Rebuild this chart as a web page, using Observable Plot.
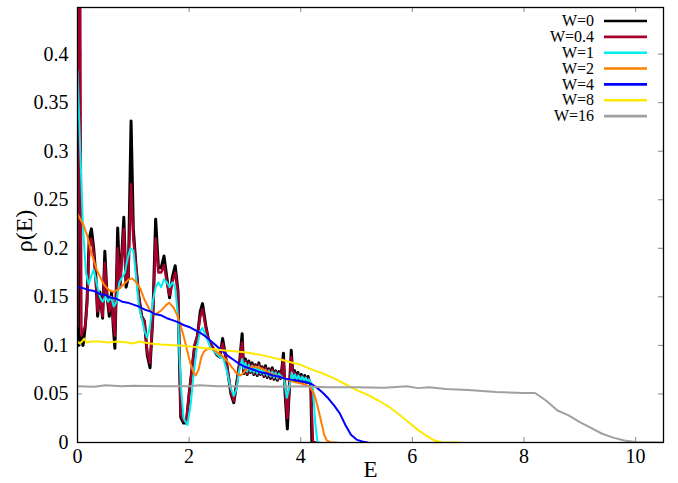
<!DOCTYPE html>
<html><head><meta charset="utf-8">
<script src="https://cdn.jsdelivr.net/npm/d3@7"></script>
<script src="https://cdn.jsdelivr.net/npm/@observablehq/plot@0.6"></script>
<style>
html,body{margin:0;padding:0;background:#fff;}
#chart{position:relative;width:678px;height:483px;}
#chart svg, #chart svg text{font-family:"Liberation Serif","Times New Roman",serif !important;}
</style></head><body><div id="chart"></div>
<script>
// ---- data: [E, rho(E)] pairs ----
const W0 = [[0,0.6],[0.02,0.1],[0.06,0.11],[0.1,0.1],[0.14,0.12],[0.17,0.145],[0.21,0.21],[0.25,0.22],[0.29,0.2],[0.33,0.17],[0.36,0.13],[0.4,0.155],[0.45,0.128],[0.49,0.197],[0.53,0.15],[0.57,0.13],[0.61,0.155],[0.64,0.12],[0.67,0.097],[0.72,0.221],[0.76,0.16],[0.8,0.2],[0.83,0.232],[0.87,0.16],[0.91,0.17],[0.96,0.331],[1.0,0.22],[1.05,0.18],[1.1,0.15],[1.15,0.13],[1.2,0.125],[1.25,0.09],[1.3,0.077],[1.35,0.13],[1.4,0.23],[1.45,0.18],[1.5,0.18],[1.55,0.192],[1.6,0.17],[1.65,0.149],[1.7,0.17],[1.75,0.182],[1.8,0.156],[1.85,0.026],[1.9,0.02],[1.95,0.02],[2.0,0.05],[2.05,0.075],[2.1,0.1],[2.15,0.11],[2.2,0.135],[2.24,0.143],[2.3,0.12],[2.35,0.105],[2.4,0.1],[2.45,0.095],[2.5,0.09],[2.55,0.088],[2.6,0.107],[2.65,0.09],[2.7,0.07],[2.75,0.05],[2.8,0.041],[2.85,0.06],[2.9,0.08],[2.95,0.112],[2.98,0.071],[3.01,0.086],[3.04,0.07],[3.07,0.084],[3.1,0.072],[3.13,0.082],[3.16,0.07],[3.19,0.08],[3.22,0.069],[3.25,0.082],[3.28,0.07],[3.31,0.078],[3.34,0.068],[3.37,0.079],[3.4,0.067],[3.43,0.076],[3.46,0.066],[3.49,0.077],[3.52,0.065],[3.55,0.074],[3.58,0.064],[3.61,0.073],[3.64,0.066],[3.67,0.08],[3.69,0.092],[3.72,0.05],[3.76,0.014],[3.8,0.06],[3.83,0.095],[3.86,0.068],[3.89,0.074],[3.92,0.063],[3.95,0.072],[3.98,0.062],[4.01,0.07],[4.04,0.061],[4.07,0.069],[4.1,0.062],[4.13,0.068],[4.16,0.062],[4.18,0.06],[4.2,0],[4.25,0]];
const W04 = [[0,0.12],[0.04,0.6],[0.07,0.11],[0.1,0.115],[0.14,0.12],[0.17,0.14],[0.21,0.2],[0.25,0.21],[0.29,0.195],[0.33,0.165],[0.36,0.135],[0.4,0.15],[0.45,0.13],[0.49,0.185],[0.53,0.15],[0.57,0.135],[0.61,0.15],[0.64,0.125],[0.67,0.11],[0.72,0.2],[0.76,0.16],[0.8,0.195],[0.83,0.22],[0.87,0.165],[0.91,0.17],[0.96,0.266],[1.0,0.21],[1.05,0.18],[1.1,0.15],[1.15,0.13],[1.2,0.125],[1.25,0.093],[1.3,0.082],[1.35,0.13],[1.4,0.21],[1.45,0.175],[1.5,0.175],[1.55,0.183],[1.6,0.165],[1.65,0.152],[1.7,0.165],[1.75,0.175],[1.8,0.155],[1.85,0.03],[1.9,0.022],[1.95,0.022],[2.0,0.05],[2.05,0.075],[2.1,0.1],[2.15,0.11],[2.2,0.13],[2.24,0.137],[2.3,0.118],[2.35,0.105],[2.4,0.1],[2.45,0.095],[2.5,0.09],[2.55,0.09],[2.6,0.102],[2.65,0.09],[2.7,0.07],[2.75,0.052],[2.8,0.043],[2.85,0.06],[2.9,0.08],[2.95,0.103],[2.98,0.073],[3.01,0.084],[3.04,0.071],[3.07,0.082],[3.1,0.073],[3.13,0.08],[3.16,0.071],[3.19,0.079],[3.22,0.07],[3.25,0.08],[3.28,0.071],[3.31,0.077],[3.34,0.069],[3.37,0.077],[3.4,0.068],[3.43,0.075],[3.46,0.067],[3.49,0.075],[3.52,0.066],[3.55,0.073],[3.58,0.065],[3.61,0.071],[3.64,0.066],[3.67,0.077],[3.69,0.086],[3.72,0.055],[3.76,0.025],[3.8,0.06],[3.83,0.088],[3.86,0.068],[3.89,0.072],[3.92,0.064],[3.95,0.07],[3.98,0.063],[4.01,0.068],[4.04,0.062],[4.07,0.067],[4.1,0.063],[4.13,0.066],[4.16,0.062],[4.18,0.06],[4.22,0],[4.27,0]];
const W1 = [[0,0.383],[0.05,0.3],[0.1,0.22],[0.15,0.175],[0.2,0.163],[0.25,0.172],[0.29,0.178],[0.34,0.165],[0.4,0.15],[0.45,0.145],[0.5,0.15],[0.55,0.145],[0.6,0.15],[0.65,0.14],[0.7,0.145],[0.75,0.165],[0.8,0.17],[0.85,0.175],[0.9,0.19],[0.95,0.2],[1.0,0.198],[1.05,0.17],[1.1,0.14],[1.15,0.128],[1.2,0.115],[1.25,0.108],[1.3,0.12],[1.35,0.145],[1.4,0.16],[1.45,0.165],[1.5,0.16],[1.55,0.168],[1.6,0.165],[1.65,0.16],[1.7,0.165],[1.75,0.16],[1.8,0.13],[1.85,0.06],[1.9,0.025],[1.97,0.018],[2.03,0.04],[2.08,0.07],[2.14,0.098],[2.2,0.115],[2.24,0.118],[2.3,0.11],[2.38,0.098],[2.45,0.094],[2.5,0.091],[2.55,0.088],[2.61,0.087],[2.67,0.075],[2.74,0.057],[2.8,0.048],[2.85,0.055],[2.9,0.075],[2.95,0.086],[2.98,0.076],[3.01,0.082],[3.04,0.073],[3.07,0.08],[3.1,0.073],[3.13,0.079],[3.16,0.072],[3.19,0.078],[3.22,0.071],[3.25,0.078],[3.28,0.071],[3.31,0.076],[3.34,0.07],[3.37,0.075],[3.4,0.069],[3.43,0.074],[3.46,0.068],[3.49,0.073],[3.52,0.067],[3.55,0.072],[3.58,0.066],[3.61,0.071],[3.65,0.068],[3.7,0.065],[3.75,0.046],[3.8,0.058],[3.84,0.072],[3.87,0.066],[3.9,0.07],[3.93,0.064],[3.96,0.069],[4.0,0.064],[4.03,0.068],[4.06,0.063],[4.09,0.067],[4.12,0.063],[4.15,0.065],[4.18,0.062],[4.22,0.055],[4.26,0.02],[4.3,0],[4.34,0]];
const W2 = [[0,0.235],[0.1,0.225],[0.18,0.212],[0.25,0.195],[0.35,0.177],[0.47,0.163],[0.56,0.157],[0.65,0.155],[0.74,0.158],[0.83,0.163],[0.92,0.168],[0.98,0.169],[1.05,0.165],[1.13,0.158],[1.2,0.147],[1.3,0.136],[1.4,0.132],[1.5,0.136],[1.58,0.141],[1.64,0.144],[1.72,0.139],[1.78,0.132],[1.84,0.122],[1.9,0.11],[1.96,0.096],[2.02,0.082],[2.08,0.072],[2.12,0.069],[2.17,0.075],[2.22,0.088],[2.27,0.094],[2.35,0.097],[2.43,0.096],[2.5,0.093],[2.58,0.09],[2.68,0.084],[2.76,0.078],[2.84,0.072],[2.92,0.069],[2.98,0.072],[3.04,0.076],[3.12,0.078],[3.2,0.078],[3.3,0.076],[3.4,0.073],[3.5,0.07],[3.6,0.068],[3.7,0.066],[3.8,0.064],[3.9,0.062],[4.0,0.061],[4.1,0.059],[4.17,0.057],[4.24,0.05],[4.29,0.04],[4.34,0.028],[4.38,0.018],[4.42,0.008],[4.47,0.002],[4.55,0],[4.65,0]];
const W4 = [[0,0.16],[0.1,0.159],[0.2,0.157],[0.3,0.156],[0.4,0.153],[0.5,0.152],[0.6,0.149],[0.7,0.148],[0.8,0.145],[0.9,0.144],[1.0,0.142],[1.1,0.14],[1.2,0.137],[1.3,0.135],[1.4,0.132],[1.5,0.131],[1.6,0.128],[1.7,0.126],[1.8,0.124],[1.9,0.121],[2.0,0.119],[2.1,0.116],[2.2,0.113],[2.3,0.109],[2.4,0.104],[2.5,0.099],[2.6,0.094],[2.7,0.089],[2.8,0.085],[2.9,0.081],[3.0,0.078],[3.1,0.076],[3.2,0.074],[3.3,0.072],[3.4,0.071],[3.5,0.069],[3.6,0.068],[3.7,0.066],[3.8,0.065],[3.9,0.064],[4.0,0.063],[4.1,0.062],[4.2,0.06],[4.3,0.056],[4.4,0.051],[4.5,0.045],[4.6,0.038],[4.7,0.03],[4.8,0.018],[4.9,0.008],[5.0,0.003],[5.1,0.001],[5.2,0]];
const W8 = [[0,0.104],[0.04,0.102],[0.08,0.104],[0.12,0.107],[0.16,0.103],[0.25,0.104],[0.4,0.104],[0.55,0.103],[0.7,0.104],[0.9,0.103],[1.0,0.102],[1.1,0.104],[1.3,0.102],[1.5,0.101],[1.8,0.1],[2.0,0.099],[2.3,0.097],[2.6,0.095],[3.0,0.093],[3.3,0.09],[3.6,0.086],[3.8,0.083],[4.0,0.08],[4.2,0.075],[4.4,0.071],[4.6,0.066],[4.8,0.06],[5.0,0.054],[5.2,0.049],[5.4,0.043],[5.6,0.036],[5.8,0.027],[5.95,0.02],[6.1,0.013],[6.25,0.007],[6.4,0.002],[6.55,0],[6.85,0]];
const W16 = [[0,0.058],[0.3,0.0575],[0.5,0.059],[0.8,0.058],[1.0,0.0585],[1.5,0.058],[2.0,0.058],[2.2,0.059],[2.5,0.058],[3.0,0.058],[3.5,0.0575],[4.0,0.058],[4.5,0.057],[5.0,0.057],[5.5,0.0565],[5.9,0.058],[6.1,0.056],[6.3,0.057],[6.6,0.055],[7.0,0.054],[7.5,0.052],[8.0,0.051],[8.2,0.051],[8.4,0.043],[8.6,0.033],[8.8,0.028],[9.0,0.021],[9.2,0.015],[9.4,0.009],[9.6,0.005],[9.8,0.002],[10.0,0.0005],[10.5,0]];

const seriesNames = ["W=0","W=0.4","W=1","W=2","W=4","W=8","W=16"];
const seriesData = [W0, W04, W1, W2, W4, W8, W16];
const seriesColors = ["#000000","#a8002c","#00f0f0","#ff7f00","#0000ff","#ffe800","#a0a0a0"];
const seriesWidths = [3, 2.5, 2, 2, 2, 2, 2];
const xTicks = [0, 2, 4, 6, 8, 10];
const yTicks = [0, 0.05, 0.1, 0.15, 0.2, 0.25, 0.3, 0.35, 0.4];

// ---- layout ----
const width = 678, height = 483;
const mL = 77, mR = 15, mT = 7, mB = 41;
const pw = width - mL - mR, ph = height - mT - mB;
const font = "Liberation Serif";
const tickColor = "#888";

const lineMarks = seriesData.map((d, i) =>
  Plot.line(d, {x: p => p[0], y: p => p[1], stroke: seriesColors[i], strokeWidth: seriesWidths[i], clip: true})
);

const chart = Plot.plot({
  width, height,
  marginLeft: mL, marginRight: mR, marginTop: mT, marginBottom: mB,
  style: {fontFamily: font, background: "#fff"},
  x: {domain: [0, 10.5]},
  y: {domain: [0, 0.448]},
  marks: [
    Plot.tickX(xTicks, {x: d => d, stroke: tickColor, insetTop: ph - 5}),
    Plot.tickX(xTicks, {x: d => d, stroke: tickColor, insetBottom: ph - 5}),
    Plot.tickY(yTicks, {y: d => d, stroke: tickColor, insetRight: pw - 5}),
    Plot.tickY(yTicks, {y: d => d, stroke: tickColor, insetLeft: pw - 5}),
    ...lineMarks,
    Plot.frame({stroke: "#000", strokeWidth: 1.3}),
    Plot.axisX(xTicks, {tickSize: 0, tickPadding: 6, fontSize: 20, fontFamily: font, label: null}),
    Plot.axisY(yTicks, {tickSize: 0, tickPadding: 9, fontSize: 20, fontFamily: font, label: null,
      tickFormat: d => String(+d.toFixed(2))}),
    Plot.text(["E"], {frameAnchor: "bottom", dy: 27, lineAnchor: "middle", textAnchor: "middle",
      fontSize: 23, fontFamily: font, text: d => d}),
    Plot.text(["ρ(E)"], {frameAnchor: "left", dx: -53, dy: 6, rotate: -90, lineAnchor: "middle",
      textAnchor: "middle", fontSize: 24, fontFamily: font, text: d => d})
  ]
});

// legend (top right, gnuplot style)
const svg = d3.select(chart);
const lg = svg.append("g").attr("font-family", font).attr("font-size", 16);
const textRight = width - mR - 69;
const lineX1 = width - mR - 59, lineX2 = width - mR - 16;
seriesNames.forEach((name, i) => {
  const y = mT + 14 + i * 15.85;
  lg.append("text").attr("x", textRight).attr("y", y).attr("text-anchor", "end")
    .attr("dy", "0.32em").attr("fill", "#000").text(name);
  lg.append("line").attr("x1", lineX1).attr("x2", lineX2).attr("y1", y).attr("y2", y)
    .attr("stroke", seriesColors[i]).attr("stroke-width", 2.6);
});

document.getElementById("chart").appendChild(chart);
</script></body></html>
